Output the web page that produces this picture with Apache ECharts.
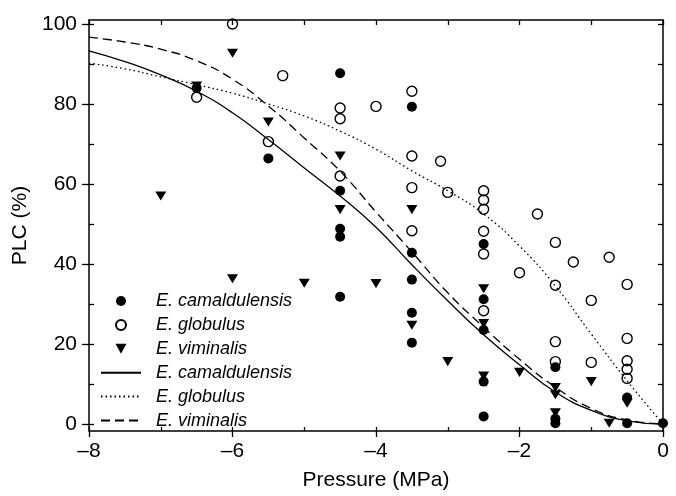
<!DOCTYPE html>
<html><head><meta charset="utf-8">
<script src="https://cdn.jsdelivr.net/npm/echarts@6/dist/echarts.min.js"></script>
<style>html,body{margin:0;padding:0;background:#fff}#c{width:676px;height:496px}</style>
</head><body><div id="c"></div>
<script>
// Observed points
const camX = [-6.5, -5.5, -4.5, -4.5, -4.5, -4.5, -4.5, -3.5, -3.5, -3.5, -3.5, -3.5, -2.5, -2.5, -2.5, -2.5, -2.5, -1.5, -1.5, -1.5, -0.5, -0.5, 0];
const camY = [84.0, 66.4, 87.7, 58.3, 48.8, 46.8, 31.8, 79.3, 42.8, 36.1, 27.8, 20.3, 45.0, 31.2, 23.5, 10.6, 1.9, 14.2, 1.3, 0.2, 6.6, 0.2, 0.2];

const globX = [-6.5, -6, -5.5, -5.3, -4.5, -4.5, -4.5, -4, -3.5, -3.5, -3.5, -3.5, -3.1, -3.0, -2.5, -2.5, -2.5, -2.5, -2.5, -2.5, -2, -1.75, -1.5, -1.5, -1.5, -1.5, -1.25, -1, -1, -0.75, -0.5, -0.5, -0.5, -0.5, -0.5];
const globY = [81.7, 100, 70.6, 87.1, 79.0, 76.3, 62.0, 79.4, 83.2, 67.0, 59.1, 48.3, 65.7, 57.9, 58.3, 56.0, 53.7, 48.2, 42.5, 28.3, 37.8, 52.5, 45.4, 34.7, 20.6, 15.6, 40.5, 30.9, 15.4, 41.7, 34.9, 21.4, 15.8, 13.7, 11.4];

const vimX = [-7, -6.5, -6, -6, -5.5, -5, -4.5, -4.5, -4, -3.5, -3.5, -3, -2.5, -2.5, -2.5, -2, -1.5, -1.5, -1.5, -1, -0.75, -0.5];
const vimY = [57.0, 84.5, 92.7, 36.3, 75.5, 35.2, 67.0, 53.6, 35.1, 53.6, 24.7, 15.6, 33.8, 25.1, 12.0, 12.9, 9.1, 7.3, 2.8, 10.6, 0.2, 5.2];

// Fitted curves
const curveX = [-8, -7.5, -7, -6.5, -6, -5.5, -5, -4.5, -4, -3.5, -3, -2.5, -2, -1.5, -1, -0.5, 0];
const camFit  = [93.3, 90.6, 87.3, 83.2, 77.8, 71.1, 64.0, 57.0, 49.2, 39.8, 30.8, 22.3, 14.8, 8.0, 3.4, 0.8, 0];
const globFit = [90.2, 88.8, 86.8, 84.8, 82.7, 80.0, 77.0, 73.2, 68.7, 63.3, 58.3, 52.5, 44.5, 34.5, 22.5, 10.8, 0];
const vimFit  = [96.7, 95.5, 93.7, 90.8, 86.2, 79.5, 71.5, 63.2, 53.0, 43.0, 32.8, 24.2, 16.2, 9.2, 3.9, 1.0, 0];

const yMajor = [0, 20, 40, 60, 80, 100];
const yMinor = [0, 10, 20, 30, 40, 50, 60, 70, 80, 90, 100];

const names = ['E. camaldulensis', 'E. globulus', 'E. viminalis'];
const ZW = '\u200b';

const zip = (a, b) => a.map((v, i) => [v, b[i]]);
const FONT = 'Liberation Sans, Arial, sans-serif';
const black = '#000';
const lineS = {color: black, width: 1.5};
const tickS = {color: black, width: 1.3};
const downTri = 'path://M0,0 L11,0 L5.5,10 Z';
const clear = 'rgba(0,0,0,0)';

const chart = echarts.init(document.getElementById('c'));
chart.setOption({
  animation: false,
  backgroundColor: '#fff',
  textStyle: {fontFamily: FONT},
  grid: {left: 89, right: 13, top: 20, bottom: 63},
  xAxis: [
    {type: 'value', min: -8, max: 0, interval: 2, position: 'bottom',
     axisLine: {show: true, onZero: false, lineStyle: lineS},
     axisTick: {show: true, inside: false, length: 6, lineStyle: tickS},
     axisLabel: {fontSize: 21, color: black, margin: 10, fontFamily: FONT,
                 formatter: v => String(v).replace('-', '\u2013')},
     splitLine: {show: false},
     name: 'Pressure (MPa)', nameLocation: 'middle', nameGap: 39,
     nameTextStyle: {fontSize: 21, color: black, fontFamily: FONT}},
    {type: 'value', min: -8, max: 0, interval: 1, position: 'bottom',
     axisLine: {show: false, onZero: false},
     axisTick: {show: true, inside: true, length: 4, lineStyle: tickS},
     axisLabel: {show: false}, splitLine: {show: false}},
    {type: 'value', min: -8, max: 0, interval: 1, position: 'top',
     axisLine: {show: true, onZero: false, lineStyle: lineS},
     axisTick: {show: true, inside: true, length: 5, lineStyle: tickS},
     axisLabel: {show: false}, splitLine: {show: false}}
  ],
  yAxis: [
    {type: 'value', min: -1.75, max: 101, position: 'left',
     axisLine: {show: true, onZero: false, lineStyle: lineS},
     axisTick: {show: true, inside: false, length: 7, customValues: yMajor, lineStyle: tickS},
     axisLabel: {fontSize: 21, color: black, margin: 12, customValues: yMajor, fontFamily: FONT},
     splitLine: {show: false},
     name: 'PLC (%)', nameLocation: 'middle', nameGap: 50, nameRotate: 90,
     nameTextStyle: {fontSize: 21, color: black, fontFamily: FONT}},
    {type: 'value', min: -1.75, max: 101, position: 'left',
     axisLine: {show: false, onZero: false},
     axisTick: {show: true, inside: true, length: 5, customValues: yMinor, lineStyle: tickS},
     axisLabel: {show: false}, splitLine: {show: false}},
    {type: 'value', min: -1.75, max: 101, position: 'right',
     axisLine: {show: true, onZero: false, lineStyle: lineS},
     axisTick: {show: true, inside: true, length: 5, customValues: yMinor, lineStyle: tickS},
     axisLabel: {show: false}, splitLine: {show: false}}
  ],
  legend: {
    orient: 'vertical', left: 100, top: 292, itemGap: 5.9, padding: 0,
    itemWidth: 40, itemHeight: 10, symbolKeepAspect: true,
    data: [names[0], names[1], names[2], names[0] + ZW, names[1] + ZW, names[2] + ZW],
    formatter: n => n.replace(ZW, ''),
    textStyle: {fontSize: 18, fontStyle: 'italic', color: black, fontFamily: FONT, padding: [0, 0, 0, 10]}
  },
  series: [
    {name: names[0] + ZW, type: 'line', data: zip(curveX, camFit), smooth: 0.5,
     symbol: 'none', lineStyle: {color: black, width: 1.3, type: 'solid'}, itemStyle: {color: clear, borderWidth: 0}, z: 2},
    {name: names[1] + ZW, type: 'line', data: zip(curveX, globFit), smooth: 0.5,
     symbol: 'none', lineStyle: {color: black, width: 1.3, type: [1.5, 3]}, itemStyle: {color: clear, borderWidth: 0}, z: 2},
    {name: names[2] + ZW, type: 'line', data: zip(curveX, vimFit), smooth: 0.5,
     symbol: 'none', lineStyle: {color: black, width: 1.3, type: [9, 5]}, itemStyle: {color: clear, borderWidth: 0}, z: 2},
    {name: names[0], type: 'scatter', data: zip(camX, camY), symbol: 'circle', symbolSize: 10,
     itemStyle: {color: black, opacity: 1}, z: 3},
    {name: names[1], type: 'scatter', data: zip(globX, globY), symbol: 'circle', symbolSize: 10,
     itemStyle: {color: clear, borderColor: black, borderWidth: 1.4, opacity: 1}, z: 3},
    {name: names[2], type: 'scatter', data: zip(vimX, vimY), symbol: downTri, symbolKeepAspect: true,
     symbolSize: [11, 10], itemStyle: {color: black, opacity: 1}, z: 3}
  ]
});
</script>
</body></html>
